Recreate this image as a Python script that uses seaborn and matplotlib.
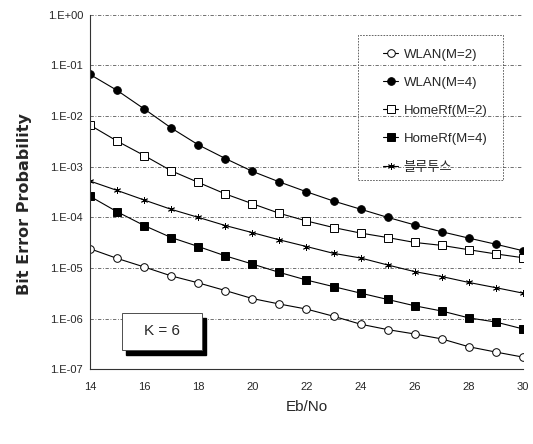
import numpy as np
import pandas as pd
import matplotlib
matplotlib.use("Agg")
import matplotlib.pyplot as plt
from matplotlib.ticker import FuncFormatter, NullLocator
from matplotlib.patches import Rectangle
import seaborn as sns

# Eb/No axis (dB)
ebno = list(range(14, 31))

# Bit error probability
wlan_m2 = [2.4e-5, 1.55e-5, 1.05e-5, 7.0e-6, 5.1e-6, 3.6e-6, 2.5e-6, 1.95e-6, 1.55e-6,
           1.12e-6, 7.8e-7, 6.1e-7, 5.0e-7, 4.0e-7, 2.8e-7, 2.2e-7, 1.75e-7]
wlan_m4 = [6.6e-2, 3.2e-2, 1.38e-2, 5.8e-3, 2.7e-3, 1.45e-3, 8.1e-4, 5.0e-4, 3.2e-4,
           2.1e-4, 1.45e-4, 1.0e-4, 7.1e-5, 5.2e-5, 3.9e-5, 2.95e-5, 2.2e-5]
homerf_m2 = [6.6e-3, 3.2e-3, 1.66e-3, 8.3e-4, 4.9e-4, 2.9e-4, 1.86e-4, 1.2e-4, 8.5e-5,
             6.3e-5, 4.9e-5, 4.0e-5, 3.2e-5, 2.8e-5, 2.3e-5, 1.9e-5, 1.6e-5]
homerf_m4 = [2.6e-4, 1.29e-4, 6.9e-5, 4.0e-5, 2.66e-5, 1.74e-5, 1.2e-5, 8.2e-6, 5.8e-6,
             4.3e-6, 3.2e-6, 2.4e-6, 1.8e-6, 1.42e-6, 1.04e-6, 8.6e-7, 6.3e-7]
bluetooth = [5.2e-4, 3.4e-4, 2.2e-4, 1.44e-4, 1.0e-4, 6.9e-5, 5.0e-5, 3.6e-5, 2.66e-5,
             1.95e-5, 1.58e-5, 1.15e-5, 8.5e-6, 6.8e-6, 5.2e-6, 4.1e-6, 3.2e-6]

series_names = ["WLAN(M=2)", "WLAN(M=4)", "HomeRf(M=2)", "HomeRf(M=4)", "블루투스"]
series_values = [wlan_m2, wlan_m4, homerf_m2, homerf_m4, bluetooth]

# marker, face colour, size, edge width
styles = {
    "WLAN(M=2)": ("o", "white", 5.5, 0.7),
    "WLAN(M=4)": ("o", "black", 5.5, 0.7),
    "HomeRf(M=2)": ("s", "white", 5.5, 0.7),
    "HomeRf(M=4)": ("s", "black", 5.5, 0.7),
    "블루투스": ((6, 2, 0), "black", 5, 0.6),
}

df = pd.DataFrame({
    "Eb/No": ebno * len(series_names),
    "BER": sum(series_values, []),
    "Series": [n for n in series_names for _ in ebno],
})

sns.set_style("white")
plt.rcParams["font.family"] = ["Liberation Sans Narrow", "Liberation Sans", "Noto Sans CJK KR", "DejaVu Sans"]

fig = plt.figure(figsize=(5.33, 4.44), dpi=100)
ax = fig.add_axes([0.169, 0.168, 0.812, 0.799])

for name in series_names:
    marker, face, size, ew = styles[name]
    sub = df[df["Series"] == name]
    sns.lineplot(data=sub, x="Eb/No", y="BER", ax=ax, color="black", lw=0.8,
                 marker=marker, ms=size, mfc=face, mec="black", mew=ew, label=name)

ax.set_yscale("log")
ax.set_ylim(1e-7, 1)
ax.set_xlim(14, 30)
ax.set_xticks(range(14, 31, 2))
ax.set_yticks([10.0 ** k for k in range(-7, 1)])
ax.yaxis.set_minor_locator(NullLocator())
ax.yaxis.set_major_formatter(FuncFormatter(lambda v, p: f"1.E{int(round(np.log10(v))):+03d}"))
ax.tick_params(axis="both", labelsize=8, length=2, direction="in", pad=9)
ax.tick_params(axis="y", length=0, pad=5)

# dash-dot horizontal grid at each decade
for k in range(-6, 1):
    ax.axhline(10.0 ** k, color="0.35", lw=0.6, dashes=(4, 2, 1, 2), zorder=0)

for side in ["top", "right"]:
    ax.spines[side].set_visible(False)
for side in ["left", "bottom"]:
    ax.spines[side].set_color("0.2")
    ax.spines[side].set_linewidth(0.8)

ax.set_xlabel("Eb/No", fontsize=11, labelpad=6)
ax.set_ylabel("Bit Error Probability", fontsize=11.5, fontweight="bold",
              family=["DejaVu Sans"])
ax.yaxis.set_label_coords(-0.134, 0.466)

leg = ax.legend(loc="upper left", bbox_to_anchor=(0.677, 0.905), frameon=False, fontsize=9.5,
                handlelength=1.15, handletextpad=0.4, labelspacing=1.2, borderpad=0,
                borderaxespad=0)
leg.texts[-1].set_family(["Noto Sans CJK KR", "DejaVu Sans"])
# dotted legend frame, larger than its contents as in the original
ax.add_patch(Rectangle((0.619, 0.534), 0.335, 0.409, transform=ax.transAxes,
                       facecolor="none", edgecolor="0.3", lw=0.6, ls=(0, (2, 1.5)),
                       zorder=3, clip_on=False))

# K = 6 box with a heavy shadow
ax.add_patch(Rectangle((0.084, 0.041), 0.185, 0.104, transform=ax.transAxes,
                       facecolor="black", edgecolor="black", zorder=4, clip_on=False))
ax.add_patch(Rectangle((0.074, 0.055), 0.185, 0.104, transform=ax.transAxes,
                       facecolor="white", edgecolor="0.3", lw=0.7, zorder=5, clip_on=False))
ax.text(0.1665, 0.107, "K = 6", transform=ax.transAxes, ha="center", va="center",
        fontsize=11, zorder=6)

fig.savefig("out.png", dpi=100)
